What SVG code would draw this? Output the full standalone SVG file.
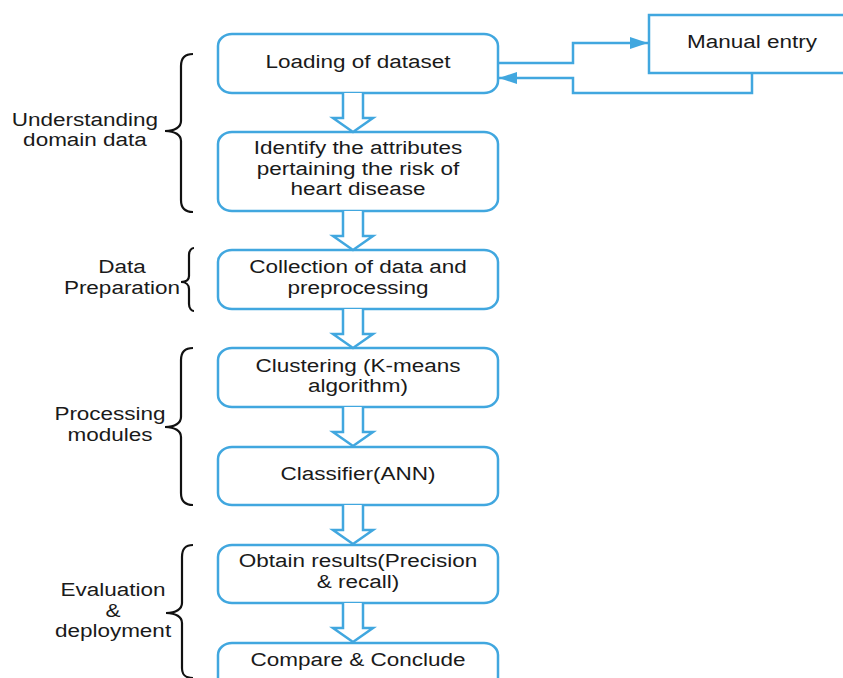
<svg xmlns="http://www.w3.org/2000/svg" width="843" height="678" viewBox="0 0 843 678">
<style>
.box{fill:#fff;stroke:#41A7DF;stroke-width:2.5}
.conn{fill:none;stroke:#41A7DF;stroke-width:2.5}
.blk{fill:#fff;stroke:#41A7DF;stroke-width:2.5;stroke-linejoin:miter}
.brace{fill:none;stroke:#111;stroke-width:2.2}
text{font-family:"Liberation Sans",Arial,sans-serif;font-size:18px;fill:#1a1a1a;text-anchor:middle}
</style>
<defs>
<path id="blockArrow" d="M-10,0 V25 H-20 L0,39 L20,25 H10 V0"/>
<marker id="ah" viewBox="0 0 18 12" refX="18" refY="6" markerWidth="18" markerHeight="12" markerUnits="userSpaceOnUse" orient="auto">
<path d="M0,0 L18,6 L0,12 Z" fill="#41A7DF"/>
</marker>
</defs>

<g id="node-loading">
<rect class="box" x="218" y="34" width="280" height="59" rx="14" ry="12"/>
<g transform="translate(358 0) scale(1.25 1)"><text x="0" y="68">Loading of dataset</text></g>
</g>
<g id="node-identify">
<rect class="box" x="218" y="132" width="280" height="79" rx="14" ry="12"/>
<g transform="translate(358 0) scale(1.25 1)"><text x="0" y="154">Identify the attributes</text><text x="0" y="175">pertaining the risk of</text><text x="0" y="195">heart disease</text></g>
</g>
<g id="node-collection">
<rect class="box" x="218" y="250" width="280" height="59" rx="14" ry="12"/>
<g transform="translate(358 0) scale(1.25 1)"><text x="0" y="273">Collection of data and</text><text x="0" y="294">preprocessing</text></g>
</g>
<g id="node-clustering">
<rect class="box" x="218" y="348" width="280" height="59" rx="14" ry="12"/>
<g transform="translate(358 0) scale(1.25 1)"><text x="0" y="372">Clustering (K-means</text><text x="0" y="392">algorithm)</text></g>
</g>
<g id="node-classifier">
<rect class="box" x="218" y="447" width="280" height="58" rx="14" ry="12"/>
<g transform="translate(358 0) scale(1.25 1)"><text x="0" y="480">Classifier(ANN)</text></g>
</g>
<g id="node-obtain">
<rect class="box" x="218" y="545" width="280" height="58" rx="14" ry="12"/>
<g transform="translate(358 0) scale(1.25 1)"><text x="0" y="567">Obtain results(Precision</text><text x="0" y="588">&amp; recall)</text></g>
</g>
<g id="node-compare">
<rect class="box" x="218" y="643" width="280" height="58" rx="14" ry="12"/>
<g transform="translate(358 0) scale(1.25 1)"><text x="0" y="666">Compare &amp; Conclude</text></g>
</g>
<g id="node-manual">
<rect class="box" x="649" y="15" width="210" height="58"/>
<g transform="translate(752 0) scale(1.25 1)"><text x="0" y="48">Manual entry</text></g>
</g>

<g id="connectors">
<use href="#blockArrow" class="blk" transform="translate(353 93)"/>
<use href="#blockArrow" class="blk" transform="translate(353 211)"/>
<use href="#blockArrow" class="blk" transform="translate(353 309)"/>
<use href="#blockArrow" class="blk" transform="translate(353 407)"/>
<use href="#blockArrow" class="blk" transform="translate(353 505)"/>
<use href="#blockArrow" class="blk" transform="translate(353 603)"/>
<path class="conn" d="M498,63 H573 V43 H648" marker-end="url(#ah)"/>
<path class="conn" d="M752,73 V93 H573 V78 H499" marker-end="url(#ah)"/>
</g>

<g id="phase-understanding">
<path class="brace" d="M193,54 C185,54 181,58 181,66 L181,121 C181,127 175,131 165,131 C175,131 181,135 181,141 L181,200 C181,208 185,212 193,212"/>
<g transform="translate(85 0) scale(1.25 1)"><text x="0" y="126">Understanding</text><text x="0" y="146">domain data</text></g>
</g>
<g id="phase-preparation">
<path class="brace" d="M194,248 C192,248 189,250 189,255 L189,276 C189,280 186,282 181,282 C186,282 189,285 189,289 L189,304 C189,309 192,311 194,311"/>
<g transform="translate(122 0) scale(1.25 1)"><text x="0" y="273">Data</text><text x="0" y="294">Preparation</text></g>
</g>
<g id="phase-processing">
<path class="brace" d="M193,348 C185,348 181,352 181,360 L181,417 C181,423 175,427 165,427 C175,427 181,431 181,437 L181,493 C181,501 185,505 193,505"/>
<g transform="translate(110 0) scale(1.25 1)"><text x="0" y="420">Processing</text><text x="0" y="441">modules</text></g>
</g>
<g id="phase-evaluation">
<path class="brace" d="M193,545 C185,545 182,549 182,557 L182,603 C182,609 176,613 166,613 C176,613 182,617 182,623 L182,668 C182,675 185,678 193,678"/>
<g transform="translate(113 0) scale(1.25 1)"><text x="0" y="596">Evaluation</text><text x="0" y="617">&amp;</text><text x="0" y="637">deployment</text></g>
</g>
</svg>
